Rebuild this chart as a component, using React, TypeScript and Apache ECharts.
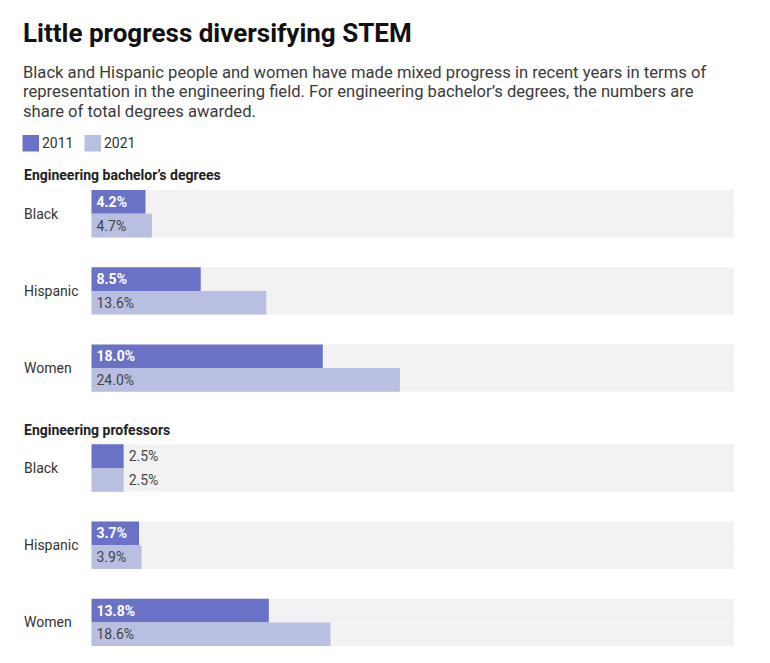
import React, { useEffect, useRef } from "react";
import * as echarts from "echarts";

const categories = ["Black", "Hispanic", "Women"];
const seriesNames = ["2011", "2021"];
const bachelors2011 = [4.2, 8.5, 18.0];
const bachelors2021 = [4.7, 13.6, 24.0];
const professors2011 = [2.5, 3.7, 13.8];
const professors2021 = [2.5, 3.9, 18.6];
const axisMax = 50;

const TITLE = "Little progress diversifying STEM";
const SUBTITLE_LINES = [
  "Black and Hispanic people and women have made mixed progress in recent years in terms of",
  "representation in the engineering field. For engineering bachelor\u2019s degrees, the numbers are",
  "share of total degrees awarded.",
];
const SECTION_TITLES = ["Engineering bachelor\u2019s degrees", "Engineering professors"];

const DARK = "#6a72c6";
const LIGHT = "#b8bfe1";
const TRACK = "#f2f2f2";
const FONT = "Roboto, 'Noto Sans', sans-serif";

function makeSeries(name: string, values: number[], gridIndex: number, dark: boolean) {
  return {
    name,
    type: "bar",
    xAxisIndex: gridIndex,
    yAxisIndex: gridIndex,
    barWidth: 23.7,
    barGap: "0%",
    showBackground: true,
    backgroundStyle: { color: TRACK },
    itemStyle: { color: dark ? DARK : LIGHT },
    data: values.map((v) => {
      const outside = v < 3;
      return {
        value: v,
        label: {
          show: true,
          position: outside ? "right" : "insideLeft",
          distance: 5,
          formatter: (p: any) => p.value.toFixed(1) + "%",
          fontFamily: FONT,
          fontSize: 14,
          fontWeight: dark && !outside ? "bold" : "normal",
          color: dark && !outside ? "#ffffff" : "#444444",
        },
      };
    }),
  };
}

export default function App() {
  const ref = useRef<HTMLDivElement>(null);
  useEffect(() => {
    if (!ref.current) return;
    const chart = echarts.init(ref.current, undefined, { renderer: "svg" });
    const grids = [
      { left: 91.5, width: 642.5, top: 175.1, height: 231.6 },
      { left: 91.5, width: 642.5, top: 429.4, height: 231.6 },
    ];
    const yAxis = grids.map((_, i) => ({
      type: "category",
      gridIndex: i,
      data: categories,
      inverse: true,
      axisLine: { show: false },
      axisTick: { show: false },
      splitLine: { show: false },
      axisLabel: {
        align: "left",
        margin: 67.5,
        fontFamily: FONT,
        fontSize: 14,
        color: "#333333",
      },
    }));
    const xAxis = grids.map((_, i) => ({
      type: "value",
      gridIndex: i,
      min: 0,
      max: axisMax,
      show: false,
    }));
    const option: any = {
      animation: false,
      backgroundColor: "#ffffff",
      textStyle: { fontFamily: FONT },
      grid: grids,
      xAxis,
      yAxis,
      legend: {
        data: seriesNames,
        left: 22.5,
        top: 135,
        itemWidth: 16.5,
        itemHeight: 16.5,
        itemGap: 11,
        icon: "rect",
        selectedMode: false,
        padding: 0,
        textStyle: { fontFamily: FONT, fontSize: 14, color: "#333333", padding: [0, 0, 0, -2] },
      },
      graphic: [
        {
          type: "text",
          left: 23,
          top: 32.5 - 13,
          style: { text: TITLE, fontFamily: FONT, fontSize: 26, fontWeight: "bold", fill: "#111111" },
        },
        ...SUBTITLE_LINES.map((line, i) => ({
          type: "text",
          left: 23,
          top: 63.5 + i * 19.5,
          style: { text: line, fontFamily: FONT, fontSize: 16.6, fill: "#3a3a3a" },
        })),
        {
          type: "text",
          left: 24,
          top: 168,
          style: { text: SECTION_TITLES[0], fontFamily: FONT, fontSize: 14, fontWeight: "bold", fill: "#222222" },
        },
        {
          type: "text",
          left: 24,
          top: 423,
          style: { text: SECTION_TITLES[1], fontFamily: FONT, fontSize: 14, fontWeight: "bold", fill: "#222222" },
        },
      ],
      series: [
        makeSeries(seriesNames[0], bachelors2011, 0, true),
        makeSeries(seriesNames[1], bachelors2021, 0, false),
        makeSeries(seriesNames[0], professors2011, 1, true),
        makeSeries(seriesNames[1], professors2021, 1, false),
      ],
    };
    chart.setOption(option);
    return () => chart.dispose();
  }, []);
  return (
    <div
      ref={ref}
      style={{ position: "fixed", left: 0, top: 0, width: 770, height: 663, background: "#fff" }}
    />
  );
}
